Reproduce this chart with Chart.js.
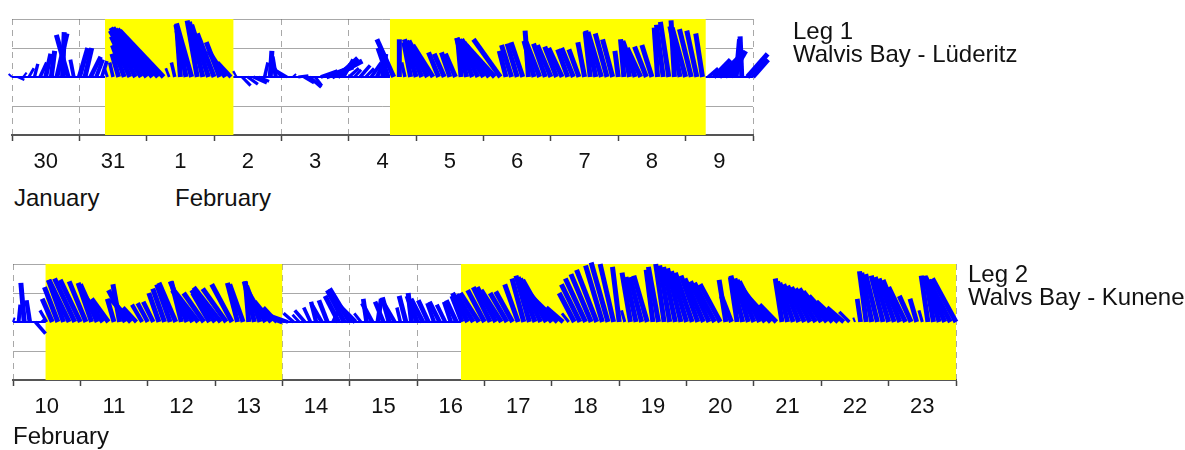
<!DOCTYPE html>
<html>
<head>
<meta charset="utf-8">
<script src="https://cdn.jsdelivr.net/npm/chart.js@4.4.0/dist/chart.umd.min.js"></script>
<style>
  body { margin: 0; background: #fff; width: 1185px; height: 450px; overflow: hidden; position: relative;
         font-family: Arial, "Liberation Sans", sans-serif; color: #111; }
  canvas { position: absolute; left: 0; }
  .txt { position: absolute; font-size: 24px; line-height: 23px; white-space: nowrap; }
</style>
</head>
<body>
<canvas id="leg1Chart" width="800" height="180" style="top:0"></canvas>
<canvas id="leg2Chart" width="1000" height="180" style="top:245px"></canvas>

<div class="txt" style="left:793px;top:19px">Leg 1<br>Walvis Bay - Lüderitz</div>
<div class="txt" style="left:14px;top:186px">January</div>
<div class="txt" style="left:175px;top:186px">February</div>
<div class="txt" style="left:968px;top:262px">Leg 2<br>Walvs Bay - Kunene</div>
<div class="txt" style="left:13px;top:424px">February</div>

<script>
// one stick every 2 hours, first stick at 00:00 of the first day
const hoursPerStick = 2;
// x-axis days per unit of wind (display scaling of the stick lean)
const stickScale = 0.5;

// Leg 1: 30 January - 9 February
const leg1Days = ['30', '31', '1', '2', '3', '4', '5', '6', '7', '8', '9'];
const leg1Shaded = [[1.38, 3.29], [5.61, 10.30]];
const leg1North = [
  0.1, -0.1, 0.15, 0.3, 0.45, 0.5, 0.8, 0.9, 1.5, 1.55, 1.45, 0.6,      // 30
  1.0, 1.0, 0.7, 0.6, 0.55, 0.35, 0.5, 0.8, 1.1, 1.4, 1.6, 1.7,         // 31
  1.7, 1.65, 1.65, 1.6, 0.3, 0.5, 1.6, 1.8, 1.85, 1.95, 1.9, 1.8,       // 1
  1.5, 1.2, 0.9, 0.5, 0.2, -0.3, -0.25, -0.2, -0.15, 0.5, 0.9, 0.7,     // 2
  0.3, 0.2, 0.1, 0.05, -0.2, -0.35, -0.3, 0.2, 0.35, 0.55, 0.65, 0.6,   // 3
  0.3, 0.25, 0.4, 0.3, 0.5, 0.6, 0.8, 1.0, 1.3, 1.3, 0.5, 1.2,          // 4
  1.3, 1.25, 1.25, 1.1, 0.85, 0.8, 0.85, 0.8, 1.3, 1.35, 1.35, 1.3,     // 5
  1.3, 1.2, 1.1, 1.3, 0.9, 1.1, 1.15, 1.2, 1.6, 1.25, 1.2, 1.15,        // 6
  1.1, 1.05, 1.0, 0.95, 1.0, 0.95, 1.2, 1.55, 1.6, 1.55, 1.5, 1.3,      // 7
  0.9, 1.3, 1.25, 1.2, 1.0, 1.05, 1.1, 1.7, 1.8, 1.9, 1.95, 1.75,       // 8
  1.7, 1.65, 1.6, 1.5, 0.3, 0.6, 0.7, 0.75, 0.9, 1.3, 1.4, 0.8,         // 9
  0.6
];
const leg1East = [
  -0.1, 0.2, 0.1, 0.15, 0.1, 0.2, 0.15, 0.1, 0.3, 0.05, -0.35, -0.1,
  0.25, 0.2, 0.3, 0.2, 0.15, -0.1, -0.1, -0.2, -0.35, -0.55, -0.75, -0.9,
  -1.0, -1.1, -1.2, -1.3, -0.1, -0.1, -0.1, -0.3, -0.45, -0.3, -0.4, -0.5,
  -0.5, -0.4, -0.5, -0.4, -0.1, 0.25, 0.3, 0.4, 0.3, 0.1, 0.05, -0.1,
  -0.2, -0.3, 0.1, 0.3, 0.3, 0.35, 0.2, 0.5, 0.8, 0.9, 0.6, 0.3,
  0.3, 0.2, 0.3, 0.25, 0.3, 0.25, 0.1, -0.3, -0.5, 0.0, -0.1, -0.2,
  -0.35, -0.45, -0.55, -0.6, -0.3, -0.3, -0.25, -0.3, -0.1, -0.3, -0.45, -0.55,
  -0.65, -0.75, -0.85, -0.8, -0.2, -0.3, -0.3, -0.35, -0.1, -0.3, -0.4, -0.35,
  -0.4, -0.35, -0.4, -0.3, -0.35, -0.3, -0.2, -0.15, -0.3, -0.4, -0.35, -0.3,
  -0.1, -0.1, -0.2, -0.35, -0.4, -0.35, -0.3, -0.1, -0.2, -0.25, -0.1, -0.3,
  -0.4, -0.35, -0.3, -0.2, 0.3, 0.5, 0.6, 0.5, 0.45, 0.1, -0.05, 0.6,
  0.45
];

// Leg 2: 10 - 23 February
const leg2Days = ['10', '11', '12', '13', '14', '15', '16', '17', '18', '19', '20', '21', '22', '23'];
const leg2Shaded = [[0.48, 4.0], [6.65, 14]];
const leg2North = [
  0.15, 0.6, 1.35, 0.75, -0.4, 0.1, 0.4, 0.8, 1.2, 1.45, 1.45, 1.5,     // 10
  1.45, 1.4, 1.35, 1.3, 1.0, 0.8, 0.8, 1.3, 1.1, 0.8, 0.5, 0.6,         // 11
  0.65, 0.7, 1.0, 1.15, 1.3, 1.35, 1.4, 1.4, 1.1, 1.05, 1.0, 1.0,       // 12
  1.1, 1.2, 1.15, 1.3, 1.35, 1.3, 1.4, 1.4, 1.25, 1.0, 0.7, 0.5,        // 13
  0.3, 0.2, 0.3, 0.25, 0.4, 0.5, 0.7, 0.6, 0.75, 0.5, 0.9, 1.1,         // 14
  1.15, 0.7, 0.3, 0.8, 0.65, 0.8, 0.7, 0.85, 0.6, 0.5, 0.9, 1.0,        // 15
  0.9, 0.8, 0.75, 0.65, 0.7, 0.6, 0.7, 0.75, 0.9, 1.0, 0.95, 1.0,       // 16
  1.1, 1.2, 1.2, 1.1, 1.0, 1.05, 1.3, 1.5, 1.6, 1.55, 1.5, 1.45,        // 17
  1.2, 0.9, 0.5, 0.3, 1.0, 1.3, 1.5, 1.65, 1.8, 1.95, 2.05, 2.0,        // 18
  1.9, 0.4, 1.7, 1.55, 1.55, 1.6, 1.8, 1.9, 2.0, 1.95, 1.9, 1.85,       // 19
  1.75, 1.7, 1.6, 1.5, 1.4, 1.35, 1.3, 1.45, 0.9, 1.55, 1.6, 1.5,       // 20
  1.45, 1.4, 1.2, 0.9, 0.6, 1.5, 1.4, 1.35, 1.3, 1.25, 1.2, 1.15,       // 21
  1.15, 1.05, 0.9, 0.7, 0.5, 0.35, 0.15, 0.8, 1.75, 1.7, 1.65, 1.6,     // 22
  1.55, 1.5, 1.45, 1.2, 0.9, 0.8, 0.4, 1.6, 1.6, 1.55, 1.5, 1.45,       // 23
  1.5
];
const leg2East = [
  0.05, 0.05, -0.1, -0.1, 0.3, 0.1, -0.2, -0.3, -0.4, -0.45, -0.6, -0.6,
  -0.6, -0.5, -0.4, -0.5, -0.6, -0.5, -0.2, -0.2, -0.5, -0.6, -0.4, -0.3,
  -0.3, -0.3, -0.3, -0.35, -0.4, -0.5, -0.3, -0.5, -0.6, -0.7, -0.6, -0.5,
  -0.7, -0.8, -0.7, -0.6, -0.3, -0.4, -0.1, -0.3, -0.4, -0.5, -0.5, -0.4,
  -0.7, -0.5, -0.3, -0.2, -0.3, -0.2, -0.15, -0.3, -0.25, 0.2, -0.4, -0.5,
  -0.6, -0.6, -0.2, -0.1, -0.3, 0.1, -0.25, -0.2, -0.3, -0.1, -0.2, -0.1,
  -0.3, -0.35, -0.3, -0.2, -0.3, -0.25, -0.2, -0.3, -0.3, -0.45, -0.5, -0.55,
  -0.5, -0.5, -0.55, -0.6, -0.5, -0.5, -0.4, -0.35, -0.4, -0.5, -0.6, -0.7,
  -0.8, -0.8, -0.5, -0.2, -0.45, -0.55, -0.6, -0.6, -0.6, -0.5, -0.5, -0.4,
  -0.2, -0.1, -0.25, -0.3, -0.35, -0.4, -0.2, -0.3, -0.25, -0.3, -0.35, -0.4,
  -0.45, -0.5, -0.5, -0.55, -0.55, -0.6, -0.6, -0.2, -0.3, -0.2, -0.35, -0.4,
  -0.5, -0.6, -0.7, -0.7, -0.5, -0.2, -0.3, -0.4, -0.45, -0.5, -0.55, -0.6,
  -0.65, -0.7, -0.7, -0.65, -0.5, -0.3, -0.05, -0.1, -0.2, -0.3, -0.35, -0.35,
  -0.4, -0.45, -0.5, -0.5, -0.35, -0.2, -0.1, -0.2, -0.25, -0.4, -0.55, -0.65,
  -0.7
];

const labelFont = { family: 'Arial, "Liberation Sans", sans-serif', size: 22 };
const gridGrey = 'rgba(110,110,110,0.6)';
const stickBlue = '#0000ff';

// base on the zero line, tip at the wind vector, then a gap
function stickPoints(east, north) {
  const pts = [];
  for (let i = 0; i < north.length; i++) {
    const t = i * hoursPerStick / 24;
    pts.push({ x: t, y: 0 });
    pts.push({ x: t + east[i] * stickScale, y: north[i] });
    pts.push({ x: t, y: null });
  }
  return pts;
}

function drawLeg(id, days, east, north, shaded, padLeft, padRight) {
  const n = days.length;
  const datasets = [{
    data: stickPoints(east, north),
    borderColor: stickBlue,
    borderWidth: 2,
    pointRadius: 0,
    spanGaps: false,
    clip: false,
    order: 1,
    segment: {
      // long sticks drawn heavier so a run of them fills in like the dense record
      borderWidth: ctx => Math.min(5, 1.4 + Math.hypot(ctx.p1.x - ctx.p0.x, ctx.p1.y - ctx.p0.y) / 7)
    }
  }];
  shaded.forEach(([from, to]) => datasets.push({
    data: [{ x: from, y: 2 }, { x: to, y: 2 }],
    borderWidth: 0,
    pointRadius: 0,
    backgroundColor: '#ffff00',
    fill: 'start',
    order: 2
  }));

  new Chart(document.getElementById(id), {
    type: 'line',
    data: { datasets },
    options: {
      responsive: false,
      animation: false,
      events: [],
      layout: { padding: { left: padLeft, top: 19, right: padRight, bottom: 0 } },
      plugins: { legend: { display: false }, tooltip: { enabled: false } },
      scales: {
        x: {
          type: 'linear',
          min: 0,
          max: n,
          z: 1,
          afterBuildTicks: scale => {
            const ticks = [];
            for (let i = 0; i <= n * 2; i++) ticks.push({ value: i / 2 });
            scale.ticks = ticks;
          },
          afterFit: scale => { scale.height = 45; },
          grid: {
            color: c => (c.tick && c.tick.value % 1 === 0) ? gridGrey : 'rgba(0,0,0,0)',
            tickColor: c => (c.tick && c.tick.value % 1 === 0) ? '#444' : 'rgba(0,0,0,0)',
            tickLength: 6,
            tickWidth: 1.5
          },
          border: { color: '#555', width: 2, dash: [6, 5] },
          ticks: {
            autoSkip: false,
            maxRotation: 0,
            padding: 8,
            color: '#111',
            font: labelFont,
            callback: v => (v % 1 === 0.5) ? days[Math.floor(v)] : ''
          }
        },
        y: {
          min: -2,
          max: 2,
          z: 1,
          afterFit: scale => { scale.width = 0; },
          ticks: { display: false, stepSize: 1 },
          grid: {
            drawTicks: false,
            color: c => {
              const v = c.tick ? c.tick.value : null;
              if (v === -2) return 'rgba(0,0,0,0)';
              return v === 0 ? stickBlue : gridGrey;
            },
            lineWidth: c => (c.tick && c.tick.value === 0) ? 2 : 1
          },
          border: { display: false }
        }
      }
    }
  });
}

drawLeg('leg1Chart', leg1Days, leg1East, leg1North, leg1Shaded, 12, 47);
drawLeg('leg2Chart', leg2Days, leg2East, leg2North, leg2Shaded, 13, 44);
</script>
</body>
</html>
